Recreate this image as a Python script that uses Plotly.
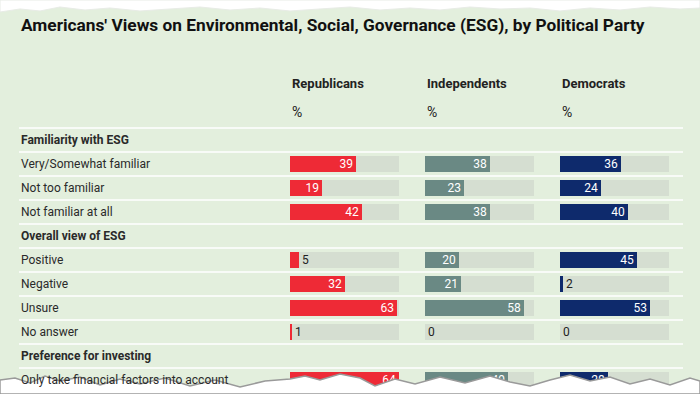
import plotly.graph_objects as go

W, H = 700, 394

title = "Americans' Views on Environmental, Social, Governance (ESG), by Political Party"
parties = ["Republicans", "Independents", "Democrats"]
unit_label = "%"
row_labels = [
    "Familiarity with ESG",
    "Very/Somewhat familiar",
    "Not too familiar",
    "Not familiar at all",
    "Overall view of ESG",
    "Positive",
    "Negative",
    "Unsure",
    "No answer",
    "Preference for investing",
    "Only take financial factors into account",
]
is_heading = [1, 0, 0, 0, 1, 0, 0, 0, 0, 1, 0]
republicans = [None, 39, 19, 42, None, 5, 32, 63, 1, None, 64]
independents = [None, 38, 23, 38, None, 20, 21, 58, 0, None, 49]
democrats = [None, 36, 24, 40, None, 45, 2, 53, 0, None, 28]
scale_max = 64

series = [republicans, independents, democrats]
colors = ["#ee2a36", "#6a8984", "#0e2a6c"]
track_color = "#d5ded1"
bg = "#e3efdd"
FONT = "Roboto"

# layout geometry (pixels)
col_x = [290, 425, 560]
track_w = 109
row0_py = 140
row_h = 24

def py2y(py):
    return (py - row0_py) / row_h

fig = go.Figure()
for k, (name, vals, col) in enumerate(zip(parties, series, colors)):
    ax = "x" if k == 0 else f"x{k+1}"
    ys = [i for i, v in enumerate(vals) if v is not None]
    xs = [vals[i] for i in ys]
    fig.add_trace(go.Bar(
        x=[scale_max] * len(ys), y=ys, orientation="h", width=16 / row_h,
        marker=dict(color=track_color, line=dict(width=0)),
        xaxis=ax, yaxis="y", hoverinfo="skip", showlegend=False,
    ))
    fig.add_trace(go.Bar(
        x=xs, y=ys, orientation="h", width=16 / row_h, name=name,
        marker=dict(color=col, line=dict(width=0)),
        text=[str(v) for v in xs],
        textposition=["inside" if v >= 10 else "outside" for v in xs],
        insidetextanchor="end", textangle=0,
        insidetextfont=dict(color="white", size=12, family=FONT),
        outsidetextfont=dict(color="#222222", size=12, family=FONT),
        constraintext="none", cliponaxis=False,
        xaxis=ax, yaxis="y", showlegend=False,
    ))

layout_axes = {}
for k in range(3):
    key = "xaxis" if k == 0 else f"xaxis{k+1}"
    layout_axes[key] = dict(
        domain=[col_x[k] / W, (col_x[k] + track_w) / W], range=[0, scale_max],
        visible=False, fixedrange=True, anchor="y",
    )

annotations = []
annotations.append(dict(
    text=f"<b>{title}</b>", x=19 / W, y=1 - 25 / H, xref="paper", yref="paper",
    xanchor="left", yanchor="middle", showarrow=False,
    font=dict(family=FONT, size=17.3, color="#111111"),
))
for k, name in enumerate(parties):
    annotations.append(dict(
        text=f"<b>{name}</b>", x=col_x[k] / W, y=1 - 84 / H, xref="paper", yref="paper",
        xanchor="left", yanchor="middle", showarrow=False,
        font=dict(family=FONT, size=13, color="#222222"),
    ))
    annotations.append(dict(
        text=unit_label, x=col_x[k] / W, y=1 - 112 / H, xref="paper", yref="paper",
        xanchor="left", yanchor="middle", showarrow=False,
        font=dict(family=FONT, size=14, color="#222222"),
    ))
for i, (lab, hd) in enumerate(zip(row_labels, is_heading)):
    annotations.append(dict(
        text=f"<b>{lab}</b>" if hd else lab, x=19 / W, y=i, xref="paper", yref="y",
        xanchor="left", yanchor="middle", showarrow=False,
        font=dict(family=FONT, size=12, color="#2a2a2a"),
    ))

shapes = []
for i in range(len(row_labels)):
    shapes.append(dict(
        type="line", xref="paper", yref="y", x0=19 / W, x1=683 / W,
        y0=i - 0.5, y1=i - 0.5, line=dict(color="white", width=1.5), layer="below",
    ))

def ppath(points):
    return "M " + " L ".join(f"{x / W:.4f},{1 - y / H:.4f}" for x, y in points) + " Z"

# torn-paper edges (decoration)
top_edge = [(0, 0), (0, 12), (20, 9), (40, 11), (60, 7), (85, 10), (110, 8), (140, 11),
            (170, 9), (200, 7), (230, 10), (260, 8), (290, 11), (320, 9), (350, 7),
            (380, 10), (410, 8), (440, 10), (470, 7), (500, 9), (530, 8), (560, 11),
            (590, 8), (620, 10), (650, 7), (680, 9), (700, 8), (700, 0)]
bottom_edge = [(0, 394), (0, 380), (15, 378), (30, 383), (45, 376), (60, 381), (80, 377),
               (100, 385), (120, 379), (140, 384), (165, 378), (190, 386), (215, 380),
               (240, 387), (265, 381), (290, 379), (305, 376), (320, 380), (340, 374),
               (360, 378), (375, 386), (395, 379), (415, 384), (440, 377), (465, 383),
               (490, 376), (510, 382), (530, 386), (550, 380), (570, 375), (590, 381),
               (610, 377), (630, 384), (650, 379), (670, 385), (690, 378), (700, 381),
               (700, 394)]
shapes.append(dict(type="path", xref="paper", yref="paper", path=ppath(top_edge),
                   fillcolor="white", line=dict(color="#e8ece6", width=1), layer="above"))
shapes.append(dict(type="path", xref="paper", yref="paper", path=ppath(bottom_edge),
                   fillcolor="white", line=dict(color="#9a9a9a", width=1.5), layer="above"))

fig.update_layout(
    width=W, height=H, margin=dict(l=0, r=0, t=0, b=0),
    paper_bgcolor=bg, plot_bgcolor=bg, barmode="overlay", bargap=0,
    yaxis=dict(range=[py2y(H), py2y(0)], domain=[0, 1], visible=False, fixedrange=True),
    annotations=annotations, shapes=shapes, showlegend=False,
    font=dict(family=FONT),
    **layout_axes,
)

fig.write_html(
    "out.html",
    config={"displayModeBar": False},
    post_script="document.body.style.margin='0';document.body.style.padding='0';",
)
